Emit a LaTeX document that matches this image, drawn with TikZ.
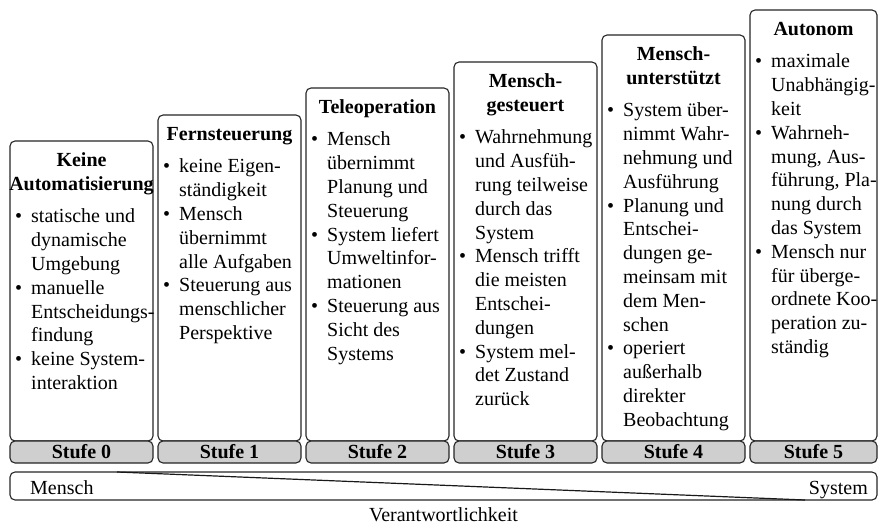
\documentclass[tikz,border=0pt]{standalone}
\usepackage{fontspec}
\setmainfont{Liberation Serif}
\begin{document}
\begin{tikzpicture}[x=1pt,y=-1pt,
  panel/.style={draw=black!85, line width=1.1pt, rounded corners=5pt, fill=white},
  stage/.style={draw=black!85, line width=1.1pt, rounded corners=5pt, fill=black!19},
  head/.style={inner sep=0pt, anchor=base, font=\fontsize{20}{23.8}\selectfont\bfseries},
  body/.style={inner sep=0pt, anchor=base west, font=\fontsize{20}{23.8}\selectfont},
  plain/.style={inner sep=0pt, font=\fontsize{20}{23.8}\selectfont},
]
\useasboundingbox (0,0) rectangle (880,526);

% level panels
\draw[panel] (10,141) rectangle (153,441);
\draw[panel] (158,115) rectangle (301,441);
\draw[panel] (306,88) rectangle (449,441);
\draw[panel] (454,62) rectangle (597,441);
\draw[panel] (602,35) rectangle (745,441);
\draw[panel] (750,10) rectangle (877,441);

% level labels
\draw[stage] (10,441) rectangle (153,463);
\draw[stage] (158,441) rectangle (301,463);
\draw[stage] (306,441) rectangle (449,463);
\draw[stage] (454,441) rectangle (597,463);
\draw[stage] (602,441) rectangle (745,463);
\draw[stage] (750,441) rectangle (877,463);
\node[head] (s0) at (81.5,458) {Stufe 0};
\node[head] (s1) at (229.5,458) {Stufe 1};
\node[head] (s2) at (377.5,458) {Stufe 2};
\node[head] (s3) at (525.5,458) {Stufe 3};
\node[head] (s4) at (673.5,458) {Stufe 4};
\node[head] (s5) at (813.5,458) {Stufe 5};

% titles
\node[head] (h0) at (81.5,167) {\begin{tabular}[t]{@{}c@{}}Keine\\Automatisierung\end{tabular}};
\node[head] (h1) at (229.5,141) {Fernsteuerung};
\node[head] (h2) at (377.5,114) {Teleoperation};
\node[head] (h3) at (525.5,88) {\begin{tabular}[t]{@{}c@{}}Mensch-\\gesteuert\end{tabular}};
\node[head] (h4) at (673.5,61) {\begin{tabular}[t]{@{}c@{}}Mensch-\\unterstützt\end{tabular}};
\node[head] (h5) at (813.5,36) {Autonom};

% bullet lists
\node[body] (b0) at (15,223) {\begin{tabular}[t]{@{}l@{\hspace{9pt}}l@{}}
\textbullet & statische und\\ & dynamische\\ & Umgebung\\
\textbullet & manuelle\\ & Entscheidungs-\\ & findung\\
\textbullet & keine System-\\ & interaktion\end{tabular}};
\node[body] (b1) at (163,173) {\begin{tabular}[t]{@{}l@{\hspace{9pt}}l@{}}
\textbullet & keine Eigen-\\ & ständigkeit\\
\textbullet & Mensch\\ & übernimmt\\ & alle Aufgaben\\
\textbullet & Steuerung aus\\ & menschlicher\\ & Perspektive\end{tabular}};
\node[body] (b2) at (311,146) {\begin{tabular}[t]{@{}l@{\hspace{9pt}}l@{}}
\textbullet & Mensch\\ & übernimmt\\ & Planung und\\ & Steuerung\\
\textbullet & System liefert\\ & Umweltinfor-\\ & mationen\\
\textbullet & Steuerung aus\\ & Sicht des\\ & Systems\end{tabular}};
\node[body] (b3) at (459,144) {\begin{tabular}[t]{@{}l@{\hspace{9pt}}l@{}}
\textbullet & Wahrnehmung\\ & und Ausfüh-\\ & rung teilweise\\ & durch das\\ & System\\
\textbullet & Mensch trifft\\ & die meisten\\ & Entschei-\\ & dungen\\
\textbullet & System mel-\\ & det Zustand\\ & zurück\end{tabular}};
\node[body] (b4) at (607,117) {\begin{tabular}[t]{@{}l@{\hspace{9pt}}l@{}}
\textbullet & System über-\\ & nimmt Wahr-\\ & nehmung und\\ & Ausführung\\
\textbullet & Planung und\\ & Entschei-\\ & dungen ge-\\ & meinsam mit\\ & dem Men-\\ & schen\\
\textbullet & operiert\\ & außerhalb\\ & direkter\\ & Beobachtung\end{tabular}};
\node[body] (b5) at (755,68) {\begin{tabular}[t]{@{}l@{\hspace{9pt}}l@{}}
\textbullet & maximale\\ & Unabhängig-\\ & keit\\
\textbullet & Wahrneh-\\ & mung, Aus-\\ & führung, Pla-\\ & nung durch\\ & das System\\
\textbullet & Mensch nur\\ & für überge-\\ & ordnete Koo-\\ & peration zu-\\ & ständig\end{tabular}};

% responsibility bar
\draw[panel] (10,472) rectangle (877,500);
\coordinate (shiftA) at (117,472);
\coordinate (shiftB) at (805,500);
\draw[line width=1.2pt, black!90] (shiftA) -- (shiftB);
\node[plain, anchor=base west] (mensch) at (30,494) {Mensch};
\node[plain, anchor=base east] (system) at (868,494) {System};
\node[plain, anchor=base] (verant) at (443.5,521) {Verantwortlichkeit};
\end{tikzpicture}
\end{document}
